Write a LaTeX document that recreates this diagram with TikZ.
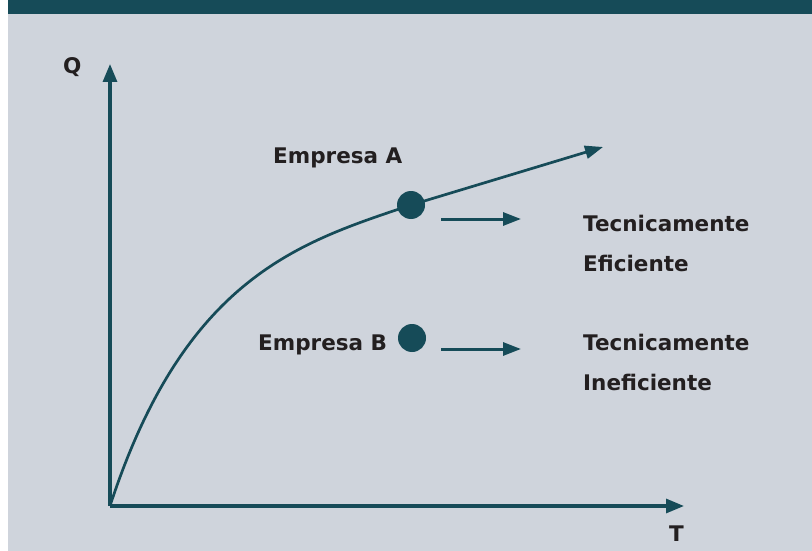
\documentclass[tikz,border=0pt]{standalone}
\usepackage{fontspec}
\setmainfont{DejaVu Sans}
\usetikzlibrary{arrows.meta,positioning}

\definecolor{petroleo}{HTML}{164B58}
\definecolor{fundo}{HTML}{CFD4DC}
\definecolor{texto}{HTML}{231F20}

\begin{document}
\begin{tikzpicture}[x=1pt,y=-1pt,
    eixo/.style={-{Triangle[length=18pt,width=14pt]},line width=3.1pt,color=petroleo},
    curva/.style={-{Triangle[length=18pt,width=13pt]},line width=2.7pt,color=petroleo},
    seta/.style={-{Triangle[length=18pt,width=13pt]},line width=3pt,color=petroleo},
    rotulo/.style={anchor=base west,inner sep=0pt,text=texto,font=\bfseries\fontsize{21.5}{25}\selectfont},
    empresa/.style={circle,fill=petroleo,minimum size=28pt,inner sep=0pt}]
        %fundo e faixa do titulo
        \useasboundingbox (0,0) rectangle (812,551);
        \fill[white] (0,0) rectangle (812,551);
        \fill[fundo] (8,0) rectangle (812,551);
        \fill[petroleo] (8,0) rectangle (812,14);

        %eixos
        \coordinate (O) at (110,506);
        \coordinate (Qfim) at (110,64);
        \coordinate (Tfim) at (684,506);
        \draw[eixo] (O) -- (Qfim);
        \draw[eixo] (O) -- (Tfim);
        \node[rotulo] (Q) at (63,74) {Q};
        \node[rotulo] (T) at (669,541) {T};

        %fronteira de producao
        \coordinate (pA) at (411,205);
        \coordinate (pB) at (412,338);
        \coordinate (curvafim) at (603,147);
        \draw[curva] (O) .. controls (185,276) and (301,242) .. (pA) -- (curvafim);

        \foreach \v in {A,B}
        {
            \node[empresa] (\v) at (p\v) {};
        };
        \node[rotulo] (nomeA) at (273,163) {Empresa A};
        \node[rotulo] (nomeB) at (258,350) {Empresa B};

        %setas para a classificacao
        \coordinate (sA) at (441,219);
        \coordinate (tA) at (521,219);
        \coordinate (sB) at (441,349);
        \coordinate (tB) at (521,349);
        \draw[seta] (sA) -- (tA);
        \draw[seta] (sB) -- (tB);

        \node[rotulo] (ef1) at (583,231) {Tecnicamente};
        \node[rotulo] (ef2) at (583,271) {Eficiente};
        \node[rotulo] (in1) at (583,350) {Tecnicamente};
        \node[rotulo] (in2) at (583,390) {Ineficiente};
\end{tikzpicture}
\end{document}
